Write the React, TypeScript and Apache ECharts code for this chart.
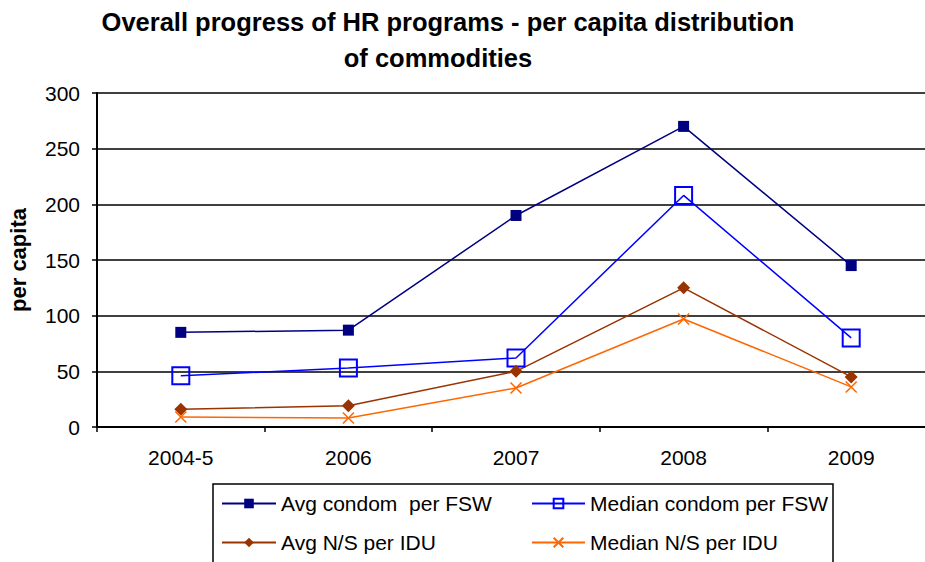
import React, { useEffect, useRef } from "react";
import * as echarts from "echarts";

const categories = ["2004-5", "2006", "2007", "2008", "2009"];
const avgCondomFSW = [85, 87, 190, 270, 145];
const medianCondomFSW = [46, 53, 62, 208, 80];
const avgNSIDU = [16, 19, 50, 125, 45];
const medianNSIDU = [9, 8, 35, 97, 36];
const seriesNames = [
  "Avg condom  per FSW",
  "Median condom per FSW",
  "Avg N/S per IDU",
  "Median N/S per IDU",
];
const titleLines = [
  "Overall progress of HR programs - per capita distribution",
  "of commodities",
];
const yName = "per capita";

const FONT = "'Liberation Sans', Arial, sans-serif";

export default function App() {
  const ref = useRef<HTMLDivElement>(null);
  useEffect(() => {
    if (!ref.current) return;
    const chart = echarts.init(ref.current, undefined, { renderer: "svg" });
    const legendText = { fontFamily: FONT, fontSize: 21, lineHeight: 21, color: "#000" };
    chart.setOption({
      animation: false,
      backgroundColor: "#fff",
      textStyle: { fontFamily: FONT },
      graphic: [
        {
          type: "text",
          x: 448,
          y: 22,
          style: {
            text: titleLines[0],
            textAlign: "center",
            textVerticalAlign: "middle",
            font: `bold 25.5px ${FONT}`,
            fill: "#000",
          },
        },
        {
          type: "text",
          x: 438,
          y: 58,
          style: {
            text: titleLines[1],
            textAlign: "center",
            textVerticalAlign: "middle",
            font: `bold 25.5px ${FONT}`,
            fill: "#000",
          },
        },
        {
          type: "rect",
          shape: { x: 213, y: 484, width: 620, height: 120 },
          style: { fill: "none", stroke: "#000", lineWidth: 1.5 },
          z: 0,
        },
      ],
      legend: [
        {
          data: [seriesNames[0], seriesNames[2]],
          orient: "vertical",
          left: 221,
          top: 493,
          padding: 0,
          itemWidth: 54,
          itemHeight: 12,
          itemGap: 18,
          textStyle: legendText,
        },
        {
          data: [seriesNames[1], seriesNames[3]],
          orient: "vertical",
          left: 531,
          top: 493,
          padding: 0,
          itemWidth: 53,
          itemHeight: 12,
          itemGap: 18,
          textStyle: legendText,
        },
      ],
      grid: {
        left: 97,
        top: 93,
        width: 838,
        height: 334,
        containLabel: false,
        outerBoundsMode: "none",
      },
      xAxis: {
        type: "category",
        data: categories,
        boundaryGap: true,
        axisLine: { lineStyle: { color: "#000", width: 2 } },
        axisTick: { show: true, length: 5, lineStyle: { color: "#000", width: 1.5 } },
        axisLabel: { margin: 20, fontSize: 21, color: "#000", fontFamily: FONT },
        splitLine: { show: false },
      },
      yAxis: {
        type: "value",
        min: 0,
        max: 300,
        interval: 50,
        name: yName,
        nameLocation: "middle",
        nameGap: 68,
        nameRotate: 90,
        nameTextStyle: { fontSize: 22, fontWeight: "bold", color: "#000", fontFamily: FONT },
        axisLine: { show: true, lineStyle: { color: "#000", width: 2 } },
        axisTick: { show: true, length: 5, lineStyle: { color: "#000", width: 1.5 } },
        axisLabel: { margin: 17, fontSize: 21, color: "#000", fontFamily: FONT },
        splitLine: { show: true, lineStyle: { color: "#000", width: 1.5 } },
      },
      series: [
        {
          name: seriesNames[0],
          type: "line",
          data: avgCondomFSW,
          symbol: "rect",
          symbolSize: 11,
          lineStyle: { color: "#000080", width: 1.5 },
          itemStyle: { color: "#000080" },
        },
        {
          name: seriesNames[1],
          type: "line",
          data: medianCondomFSW,
          symbol: "rect",
          symbolSize: 17,
          lineStyle: { color: "#0000FF", width: 1.5 },
          itemStyle: { color: "rgba(0,0,0,0)", borderColor: "#0000FF", borderWidth: 2 },
        },
        {
          name: seriesNames[2],
          type: "line",
          data: avgNSIDU,
          symbol: "diamond",
          symbolSize: 13,
          lineStyle: { color: "#993300", width: 1.5 },
          itemStyle: { color: "#993300" },
        },
        {
          name: seriesNames[3],
          type: "line",
          data: medianNSIDU,
          symbol: "path://M0 0L10 10M10 0L0 10",
          symbolSize: 11,
          lineStyle: { color: "#FF6600", width: 1.5 },
          itemStyle: { color: "#FF6600", borderColor: "#FF6600", borderWidth: 1.5 },
        },
      ],
    });
    return () => chart.dispose();
  }, []);
  return (
    <div
      ref={ref}
      style={{ position: "fixed", left: 0, top: 0, width: 925, height: 562 }}
    />
  );
}
